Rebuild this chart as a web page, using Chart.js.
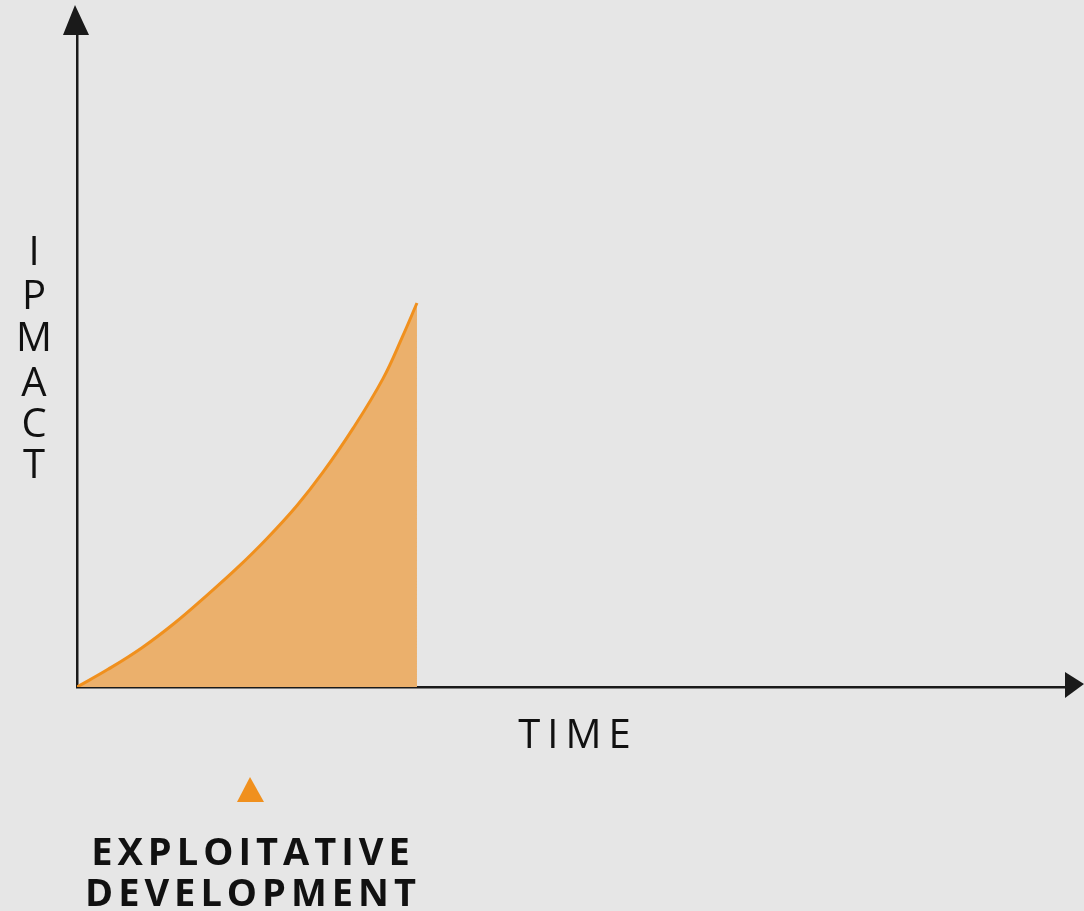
<!DOCTYPE html>
<html>
<head>
<meta charset="utf-8">
<script src="https://cdn.jsdelivr.net/npm/chart.js@4/dist/chart.umd.min.js"></script>
<style>
  html, body { margin: 0; padding: 0; background: #e6e6e6; }
  #wrap { width: 1084px; height: 911px; }
</style>
</head>
<body>
<div id="wrap"><canvas id="impactChart"></canvas></div>
<script>
// curve (time vs impact, 0..100 scale on both axes)
const timeVals = [0, 3.14, 6.58, 9.92, 13.26, 16.19, 19.23, 22.27, 24.9, 27.94, 30.97, 32.99, 34.41];
const impactVals = [0, 2.71, 6.03, 9.86, 14.22, 18.22, 22.78, 27.84, 32.94, 39.66, 47.3, 53.9, 58.9];
const yLetters = ['I', 'P', 'M', 'A', 'C', 'T'];
const xTitle = 'TIME';
const caption = ['EXPLOITATIVE', 'DEVELOPMENT'];

const axisColor = '#1a1a1a';
const lineOrange = '#f0901e';
const fillOrange = '#ebb06c';

const points = timeVals.map((t, i) => ({ x: t, y: impactVals[i] }));

// arrowheads + texts drawn around the chart area
const decor = {
  id: 'decor',
  afterDraw(chart) {
    const ctx = chart.ctx;
    const a = chart.chartArea;
    ctx.save();
    ctx.fillStyle = axisColor;
    // y arrow
    ctx.beginPath();
    ctx.moveTo(a.left - 2, 5);
    ctx.lineTo(a.left - 14, a.top);
    ctx.lineTo(a.left + 12, a.top);
    ctx.closePath();
    ctx.fill();
    // x arrow
    ctx.beginPath();
    ctx.moveTo(1084, a.bottom - 3);
    ctx.lineTo(a.right, a.bottom - 15);
    ctx.lineTo(a.right, a.bottom + 11);
    ctx.closePath();
    ctx.fill();

    // vertical IPMACT letters
    ctx.fillStyle = '#111';
    ctx.font = '500 40px "Open Sans"';
    ctx.textAlign = 'center';
    ctx.textBaseline = 'alphabetic';
    const bases = [265, 309, 351, 396, 437, 478];
    yLetters.forEach((ch, i) => ctx.fillText(ch, 34, bases[i]));

    // TIME
    ctx.letterSpacing = '7px';
    ctx.fillText(xTitle, 578, 748);

    // caption marker
    ctx.fillStyle = lineOrange;
    ctx.beginPath();
    ctx.moveTo(250, 777);
    ctx.lineTo(237, 802);
    ctx.lineTo(264, 802);
    ctx.closePath();
    ctx.fill();

    ctx.fillStyle = '#111';
    ctx.font = 'bold 38px "Open Sans"';
    ctx.letterSpacing = '5px';
    ctx.fillText(caption[0], 253, 865);
    ctx.fillText(caption[1], 253, 906);
    ctx.restore();
  }
};

new Chart(document.getElementById('impactChart'), {
  type: 'line',
  data: {
    datasets: [{
      data: points,
      borderColor: lineOrange,
      borderWidth: 3,
      backgroundColor: fillOrange,
      fill: 'origin',
      pointRadius: 0,
      tension: 0.4
    }]
  },
  options: {
    responsive: true,
    maintainAspectRatio: false,
    animation: false,
    layout: { padding: { left: 77, right: 19, top: 35, bottom: 224 } },
    plugins: { legend: { display: false }, tooltip: { enabled: false } },
    scales: {
      x: {
        type: 'linear', min: 0, max: 100,
        grid: { display: false },
        ticks: { display: false },
        border: { display: true, color: axisColor, width: 2.5 },
        afterFit: s => { s.height = 0; }
      },
      y: {
        type: 'linear', min: 0, max: 100,
        grid: { display: false },
        ticks: { display: false },
        border: { display: true, color: axisColor, width: 2.5 },
        afterFit: s => { s.width = 0; }
      }
    }
  },
  plugins: [decor]
});
</script>
</body>
</html>
